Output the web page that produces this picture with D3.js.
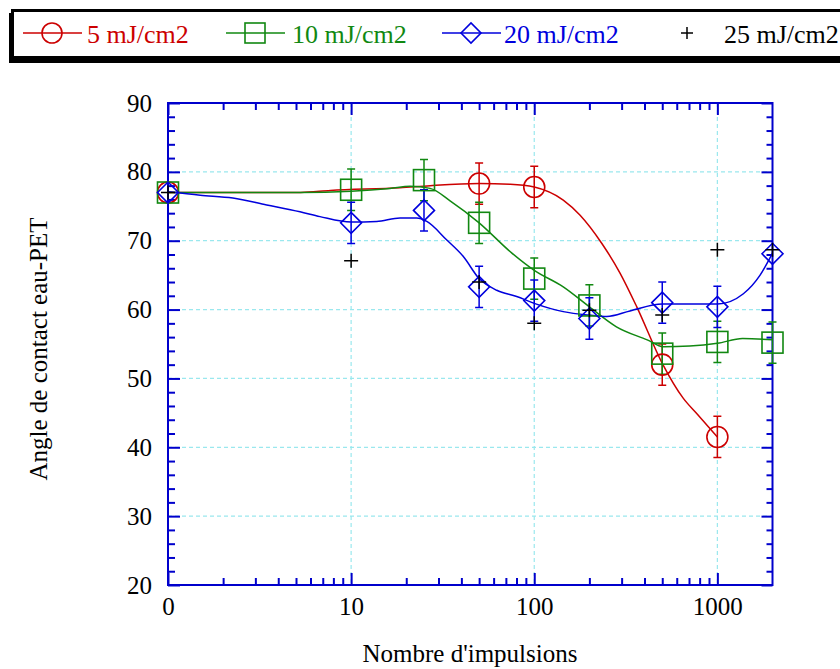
<!DOCTYPE html>
<html><head><meta charset="utf-8">
<script src="https://cdn.jsdelivr.net/npm/d3@7"></script>
<style>body{margin:0;background:#fff}svg{display:block}</style>
</head><body><svg id="c" width="840" height="669" style="font-family:'Liberation Serif','Times New Roman',serif"></svg>
<script>
// ---- data ----
const seriesNames = ["5 mJ/cm2", "10 mJ/cm2", "20 mJ/cm2", "25 mJ/cm2"];
const seriesColors = ["#cc0000", "#118811", "#0000dd", "#000000"];
const seriesShapes = ["circle", "square", "diamond", "plus"];

const redX = [1, 50, 100, 500, 1000];
const redY = [77.0, 78.3, 77.8, 52.0, 41.5];
const redErr = [0, 3, 3, 3, 3];

const greenX = [1, 10, 25, 50, 100, 200, 500, 1000, 2000];
const greenY = [77.0, 77.4, 78.8, 72.6, 64.5, 60.6, 53.6, 55.3, 55.2];
const greenErr = [0, 3, 3, 3, 3, 3, 3, 3, 3];

const blueX = [1, 10, 25, 50, 100, 200, 500, 1000, 2000];
const blueY = [77.0, 72.6, 74.4, 63.3, 61.3, 58.7, 61.0, 60.4, 68.1];
const blueErr = [0, 3, 3, 3, 3, 3, 3, 3, 0];

const blackX = [1, 10, 50, 100, 200, 500, 1000, 2000];
const blackY = [77.0, 67.1, 64.0, 58.0, 59.9, 59.2, 68.7, 68.7];

// smoothed curves
const redFitX = [1, 5.3, 7.7, 18.5, 27, 50, 74, 100, 144, 178, 234, 294, 363, 500, 652, 771, 1000];
const redFitY = [77.0, 77.0, 77.3, 77.7, 78.0, 78.3, 78.2, 77.8, 75.9, 73.7, 69.6, 65.3, 60.4, 52.2, 47.1, 44.9, 41.5];
const greenFitX = [1, 5.3, 10, 16.3, 21, 27, 34.7, 50, 75.5, 100, 144, 200, 281, 414, 507, 706, 1000, 1372, 2000];
const greenFitY = [77.0, 77.0, 77.2, 77.6, 77.9, 77.6, 75.8, 72.6, 68.2, 65.7, 63.3, 60.4, 57.5, 55.6, 54.6, 54.7, 55.1, 55.8, 55.6];
const blueFitX = [1, 1.5, 2.26, 3.46, 5.26, 6.76, 10, 13.8, 18.5, 22.8, 25.9, 33.3, 41, 50, 62.4, 80.2, 100, 144, 200, 249, 333, 500, 1000, 1387, 1711, 2000];
const blueFitY = [77.1, 76.6, 76.2, 75.2, 74.2, 73.5, 72.7, 72.8, 73.3, 73.3, 72.8, 70.1, 67.7, 64.5, 62.8, 61.9, 60.9, 59.7, 59.2, 59.0, 59.8, 60.8, 60.8, 62.3, 65.0, 68.2];

const xMajorTicks = [1, 10, 100, 1000];
const xTickLabels = ["0", "10", "100", "1000"];
const yMajorTicks = [20, 30, 40, 50, 60, 70, 80, 90];
const xTitle = "Nombre d'impulsions";
const yTitle = "Angle de contact eau-PET";

// ---- drawing ----
const FONT = "'Liberation Serif','Times New Roman',serif";
const svg = d3.select("#c");
const L = 168, R = 772.5, T = 103, B = 585;
const x = d3.scaleLog().domain([1, 2000]).range([L, R]);
const y = d3.scaleLinear().domain([20, 90]).range([B, T]);
const axisColor = "#0000cc", gridColor = "#9ae8ee";

const xMinor = [];
[1, 10, 100].forEach(d => { for (let k = 2; k <= 9; k++) xMinor.push(d * k); });
const yMinor = d3.range(22, 90, 2).filter(v => v % 10 !== 0);

// grid
const grid = svg.append("g");
grid.selectAll("line.h").data(yMajorTicks.filter(v => v > 20 && v < 90)).join("line")
  .attr("x1", L).attr("x2", R).attr("y1", d => y(d)).attr("y2", d => y(d))
  .attr("stroke", gridColor).attr("stroke-width", 1.2).attr("stroke-dasharray", "4,3");
grid.selectAll("line.v").data(xMajorTicks.filter(v => v > 1)).join("line")
  .attr("x1", d => x(d)).attr("x2", d => x(d)).attr("y1", T).attr("y2", B)
  .attr("stroke", gridColor).attr("stroke-width", 1.2).attr("stroke-dasharray", "4,3");

// axes
function styleAxis(g) {
  g.attr("font-family", null).attr("font-size", null);
  g.select(".domain").remove();
  g.selectAll(".tick line").attr("stroke", axisColor).attr("stroke-width", 2);
  g.selectAll(".tick text").attr("fill", "#000").style("font-size", "25px").style("font-family", FONT);
}
svg.append("g").attr("transform", `translate(0,${B})`)
  .call(d3.axisBottom(x).tickValues(xMajorTicks).tickFormat((d, i) => xTickLabels[i]).tickSize(-12).tickPadding(12)).call(styleAxis);
svg.append("g").attr("transform", `translate(0,${B})`)
  .call(d3.axisBottom(x).tickValues(xMinor).tickFormat("").tickSize(-7)).call(styleAxis);
svg.append("g").attr("transform", `translate(0,${T})`)
  .call(d3.axisTop(x).tickValues(xMajorTicks).tickFormat("").tickSize(-12)).call(styleAxis);
svg.append("g").attr("transform", `translate(0,${T})`)
  .call(d3.axisTop(x).tickValues(xMinor).tickFormat("").tickSize(-7)).call(styleAxis);
svg.append("g").attr("transform", `translate(${L},0)`)
  .call(d3.axisLeft(y).tickValues(yMajorTicks).tickSize(-12).tickPadding(16)).call(styleAxis);
svg.append("g").attr("transform", `translate(${L},0)`)
  .call(d3.axisLeft(y).tickValues(yMinor).tickFormat("").tickSize(-7)).call(styleAxis);
svg.append("g").attr("transform", `translate(${R},0)`)
  .call(d3.axisRight(y).tickValues(yMajorTicks).tickFormat("").tickSize(-11)).call(styleAxis);
svg.append("g").attr("transform", `translate(${R},0)`)
  .call(d3.axisRight(y).tickValues(yMinor).tickFormat("").tickSize(-6)).call(styleAxis);
svg.append("rect").attr("x", L).attr("y", T).attr("width", R - L).attr("height", B - T)
  .attr("fill", "none").attr("stroke", axisColor).attr("stroke-width", 2);

// titles
svg.append("text").attr("x", 470).attr("y", 662).attr("text-anchor", "middle")
  .style("font-family", FONT).style("font-size", "25px").text(xTitle);
svg.append("text").attr("transform", "translate(47,349) rotate(-90)").attr("text-anchor", "middle")
  .style("font-family", FONT).style("font-size", "25px").text(yTitle);

// curves
const line = d3.line().x(d => x(d[0])).y(d => y(d[1])).curve(d3.curveMonotoneX);
const fits = [[redFitX, redFitY, 0], [greenFitX, greenFitY, 1], [blueFitX, blueFitY, 2]];
fits.forEach(([fx, fy, i]) => {
  svg.append("path").datum(fx.map((v, k) => [v, fy[k]])).attr("d", line)
    .attr("fill", "none").attr("stroke", seriesColors[i]).attr("stroke-width", 1.5);
});

// markers
function marker(g, shape, cx, cy, color, s) {
  if (shape === "circle") g.append("circle").attr("cx", cx).attr("cy", cy).attr("r", s)
    .attr("fill", "none").attr("stroke", color).attr("stroke-width", 1.6);
  else if (shape === "square") g.append("rect").attr("x", cx - s).attr("y", cy - s).attr("width", 2 * s).attr("height", 2 * s)
    .attr("fill", "none").attr("stroke", color).attr("stroke-width", 1.6);
  else if (shape === "diamond") g.append("path").attr("d", `M${cx - s},${cy}L${cx},${cy - s}L${cx + s},${cy}L${cx},${cy + s}Z`)
    .attr("fill", "none").attr("stroke", color).attr("stroke-width", 1.6);
  else g.append("path").attr("d", `M${cx - s},${cy}H${cx + s}M${cx},${cy - s}V${cy + s}`)
    .attr("fill", "none").attr("stroke", color).attr("stroke-width", 1.5);
}
const sets = [[redX, redY, redErr, 0], [greenX, greenY, greenErr, 1], [blueX, blueY, blueErr, 2], [blackX, blackY, null, 3]];
const mg = svg.append("g");
sets.forEach(([sx, sy, se, i]) => {
  const col = seriesColors[i];
  sx.forEach((v, k) => {
    if (se && se[k] > 0) {
      const cx = x(v), y1 = y(sy[k] + se[k]), y2 = y(sy[k] - se[k]);
      mg.append("path").attr("d", `M${cx},${y1}V${y2}M${cx - 4},${y1}H${cx + 4}M${cx - 4},${y2}H${cx + 4}`)
        .attr("stroke", col).attr("stroke-width", 1.5).attr("fill", "none");
    }
  });
});
sets.forEach(([sx, sy, se, i]) => {
  sx.forEach((v, k) => marker(mg, seriesShapes[i], x(v), y(sy[k]), seriesColors[i], i === 3 ? 7 : 10.5));
});

// legend
const lg = svg.append("g");
lg.append("rect").attr("x", 9).attr("y", 13).attr("width", 850).attr("height", 50).attr("fill", "#000");
lg.append("rect").attr("x", 12.5).attr("y", 10.5).attr("width", 850).attr("height", 47)
  .attr("fill", "#fff").attr("stroke", "#000").attr("stroke-width", 3);
const legX = [52, 255, 471, 687];
const legText = [87, 292, 504, 724];
seriesNames.forEach((n, i) => {
  const ly = 33;
  if (i < 3) lg.append("line").attr("x1", legX[i] - 29).attr("x2", legX[i] + 30).attr("y1", ly).attr("y2", ly)
    .attr("stroke", seriesColors[i]).attr("stroke-width", 1.5);
  marker(lg, seriesShapes[i], legX[i], ly, seriesColors[i], i === 3 ? 6 : 10);
  lg.append("text").attr("x", legText[i]).attr("y", 43)
    .style("font-family", FONT).style("font-size", "26px")
    .attr("fill", seriesColors[i]).text(n);
});
</script></body></html>
